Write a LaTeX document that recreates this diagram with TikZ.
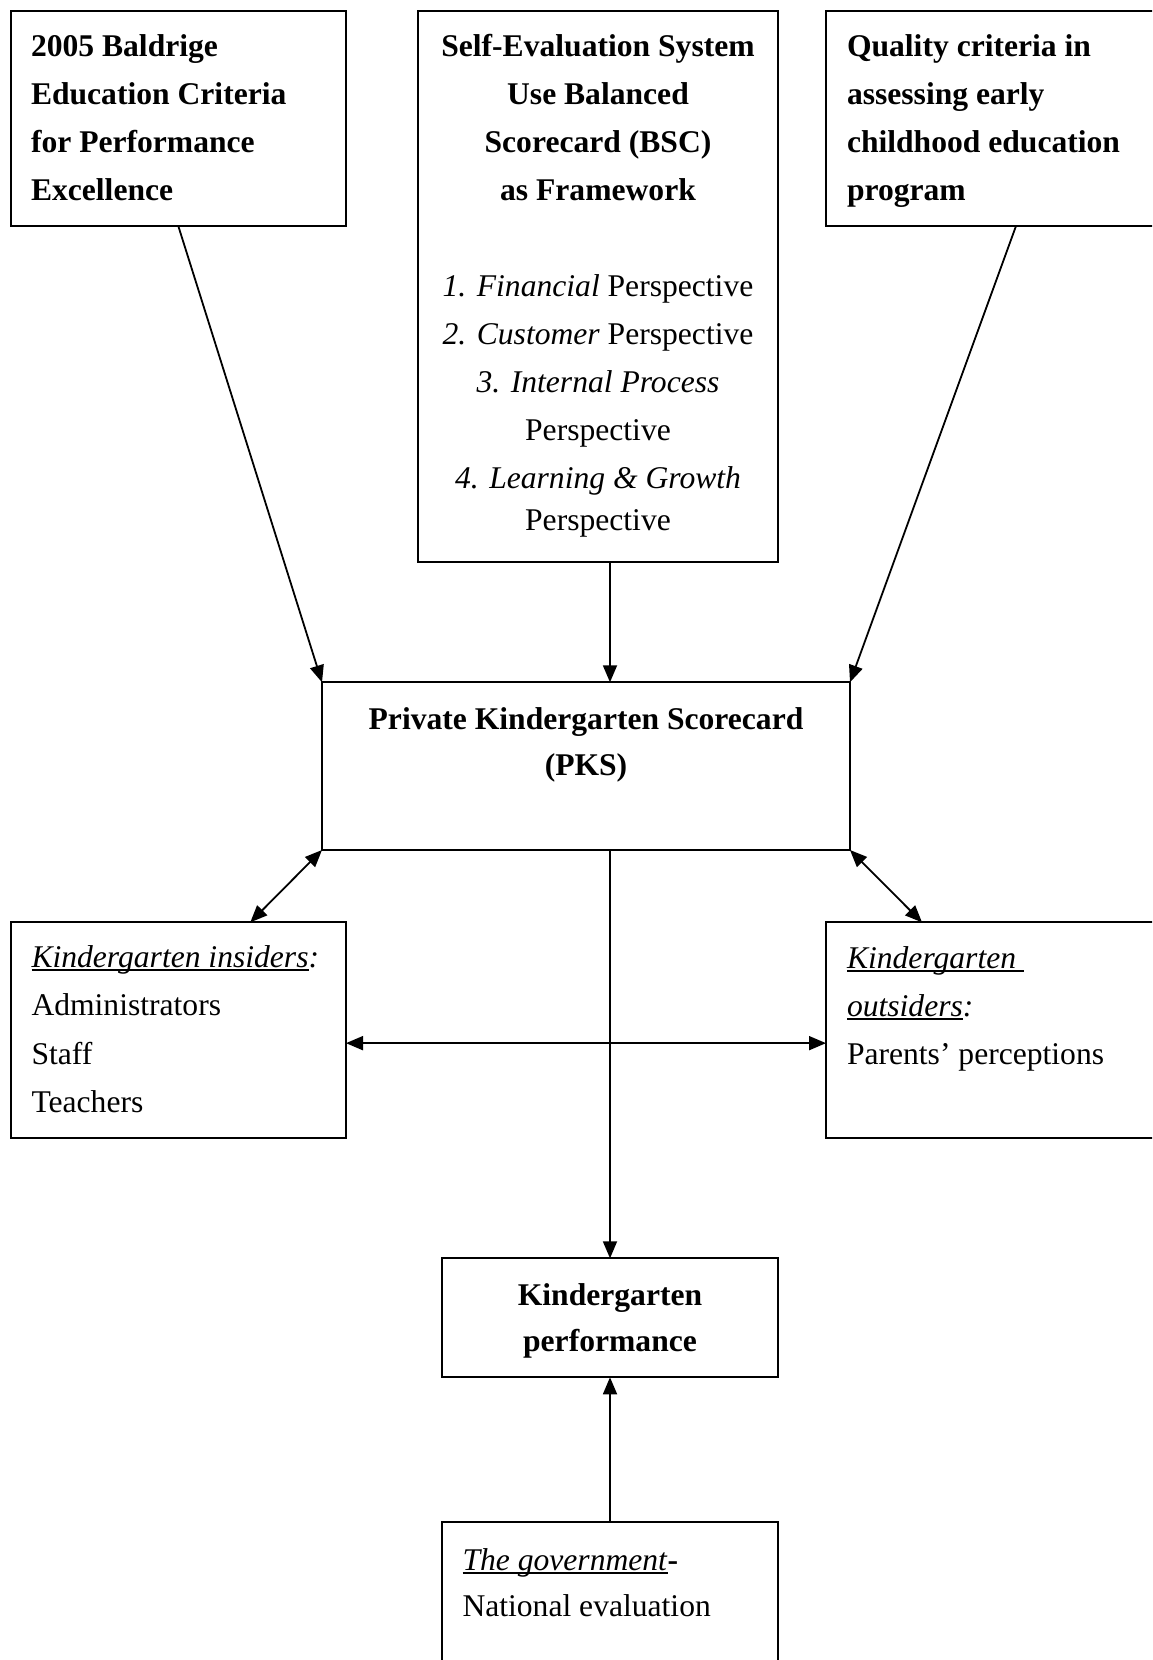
\documentclass[tikz,border=0pt]{standalone}
\usepackage{fontspec}
\setmainfont{Liberation Serif}
\usetikzlibrary{arrows.meta}

% text size with a chosen line pitch
\newcommand\fsz[1]{\fontsize{31.6pt}{#1pt}\selectfont}
% underline sitting just under the baseline (crosses descenders)
\newcommand\ulword[1]{\leavevmode\setbox0=\hbox{#1}\rlap{\rule[-0.13em]{\wd0}{0.06em}}\box0}

\begin{document}
\begin{tikzpicture}[x=1pt,y=-1pt,
  box/.style={draw, line width=2.2pt, inner sep=0pt, outer sep=0pt, rectangle, anchor=north west},
  txt/.style={inner sep=0pt, outer sep=0pt},
  arr/.style={line width=1.8pt, -{Triangle[length=17pt,width=14pt]}},
  dbl/.style={line width=1.8pt, {Triangle[length=17pt,width=14pt]}-{Triangle[length=17pt,width=14pt]}},
]
\fill[white] (0,0) rectangle (1152,1660);
\path[use as bounding box, clip] (0,0) rectangle (1152,1660);

% ---- frames ----
\node[box, minimum width=335.4pt, minimum height=215.4pt] (bal)  at (10.6,10.6) {};
\node[box, minimum width=360pt,   minimum height=551pt]   (sys)  at (418,10.6) {};
\node[box, minimum width=380pt,   minimum height=215.4pt] (qual) at (826,10.6) {};
\node[box, minimum width=528pt,   minimum height=167.7pt] (pks)  at (322,682.3) {};
\node[box, minimum width=335.4pt, minimum height=215.7pt] (ins)  at (10.6,922.3) {};
\node[box, minimum width=380pt,   minimum height=215.7pt] (out)  at (826,922.3) {};
\node[box, minimum width=336pt,   minimum height=119pt]   (perf) at (442,1258.3) {};
\node[box, minimum width=336pt,   minimum height=200pt]   (gov)  at (442,1522.3) {};

% ---- texts ----
\node[txt, anchor=base west, font=\fsz{48}\bfseries] (balt) at (31,56)
  {\begin{tabular}[t]{@{}l@{}}2005 Baldrige\\ Education Criteria\\ for Performance\\ Excellence\end{tabular}};

\node[txt, anchor=base, font=\fsz{48}] (syst) at (598,56)
  {\begin{tabular}[t]{@{}c@{}}
   \textbf{Self-Evaluation System}\\
   \textbf{Use Balanced}\\
   \textbf{Scorecard (BSC)}\\
   \textbf{as Framework}\\
   \\
   \textit{1. Financial} Perspective\\
   \textit{2. Customer} Perspective\\
   \textit{3. Internal Process}\\
   Perspective\\
   \textit{4. Learning \& Growth}\\[-6pt]
   Perspective
  \end{tabular}};

\node[txt, anchor=base west, font=\fsz{48}\bfseries] (qualt) at (847,56)
  {\begin{tabular}[t]{@{}l@{}}Quality criteria in\\ assessing early\\ childhood education\\ program\end{tabular}};

\node[txt, anchor=base, font=\fsz{46}\bfseries] (pkst) at (586,729.5)
  {\begin{tabular}[t]{@{}c@{}}Private Kindergarten Scorecard\\ (PKS)\end{tabular}};

\node[txt, anchor=base west, font=\fsz{48.6}] (inst) at (31.5,967)
  {\begin{tabular}[t]{@{}l@{}}\ulword{\textit{Kindergarten insiders}}\textit{:}\\ Administrators\\ Staff\\ Teachers\end{tabular}};

\node[txt, anchor=base west, font=\fsz{48}] (outt) at (847,968)
  {\begin{tabular}[t]{@{}l@{}}\ulword{\textit{Kindergarten }}\\ \ulword{\textit{outsiders}}\textit{:}\\ Parents’ perceptions\end{tabular}};

\node[txt, anchor=base, font=\fsz{46}\bfseries] (perft) at (610,1305)
  {\begin{tabular}[t]{@{}c@{}}Kindergarten\\ performance\end{tabular}};

\node[txt, anchor=base west, font=\fsz{46}] (govt) at (462.5,1570)
  {\begin{tabular}[t]{@{}l@{}}\ulword{\textit{The government}}\textbf{-}\\ National evaluation\end{tabular}};

% ---- connectors ----
\draw[arr] (bal.south) -- (pks.north west);
\draw[arr] (sys.south -| perf.north) -- (pks.north -| perf.north);
\draw[arr] (qual.south) -- (pks.north east);
\draw[dbl] (pks.south west) -- ([xshift=72pt]ins.north);
\draw[dbl] (pks.south east) -- ([xshift=-94pt]out.north);
\draw[arr] (pks.south -| perf.north) -- (perf.north);
\draw[dbl] ([yshift=-13pt]ins.east) -- ([yshift=-13pt]ins.east -| out.west);
\draw[arr] (gov.north) -- (perf.south);
\end{tikzpicture}
\end{document}
